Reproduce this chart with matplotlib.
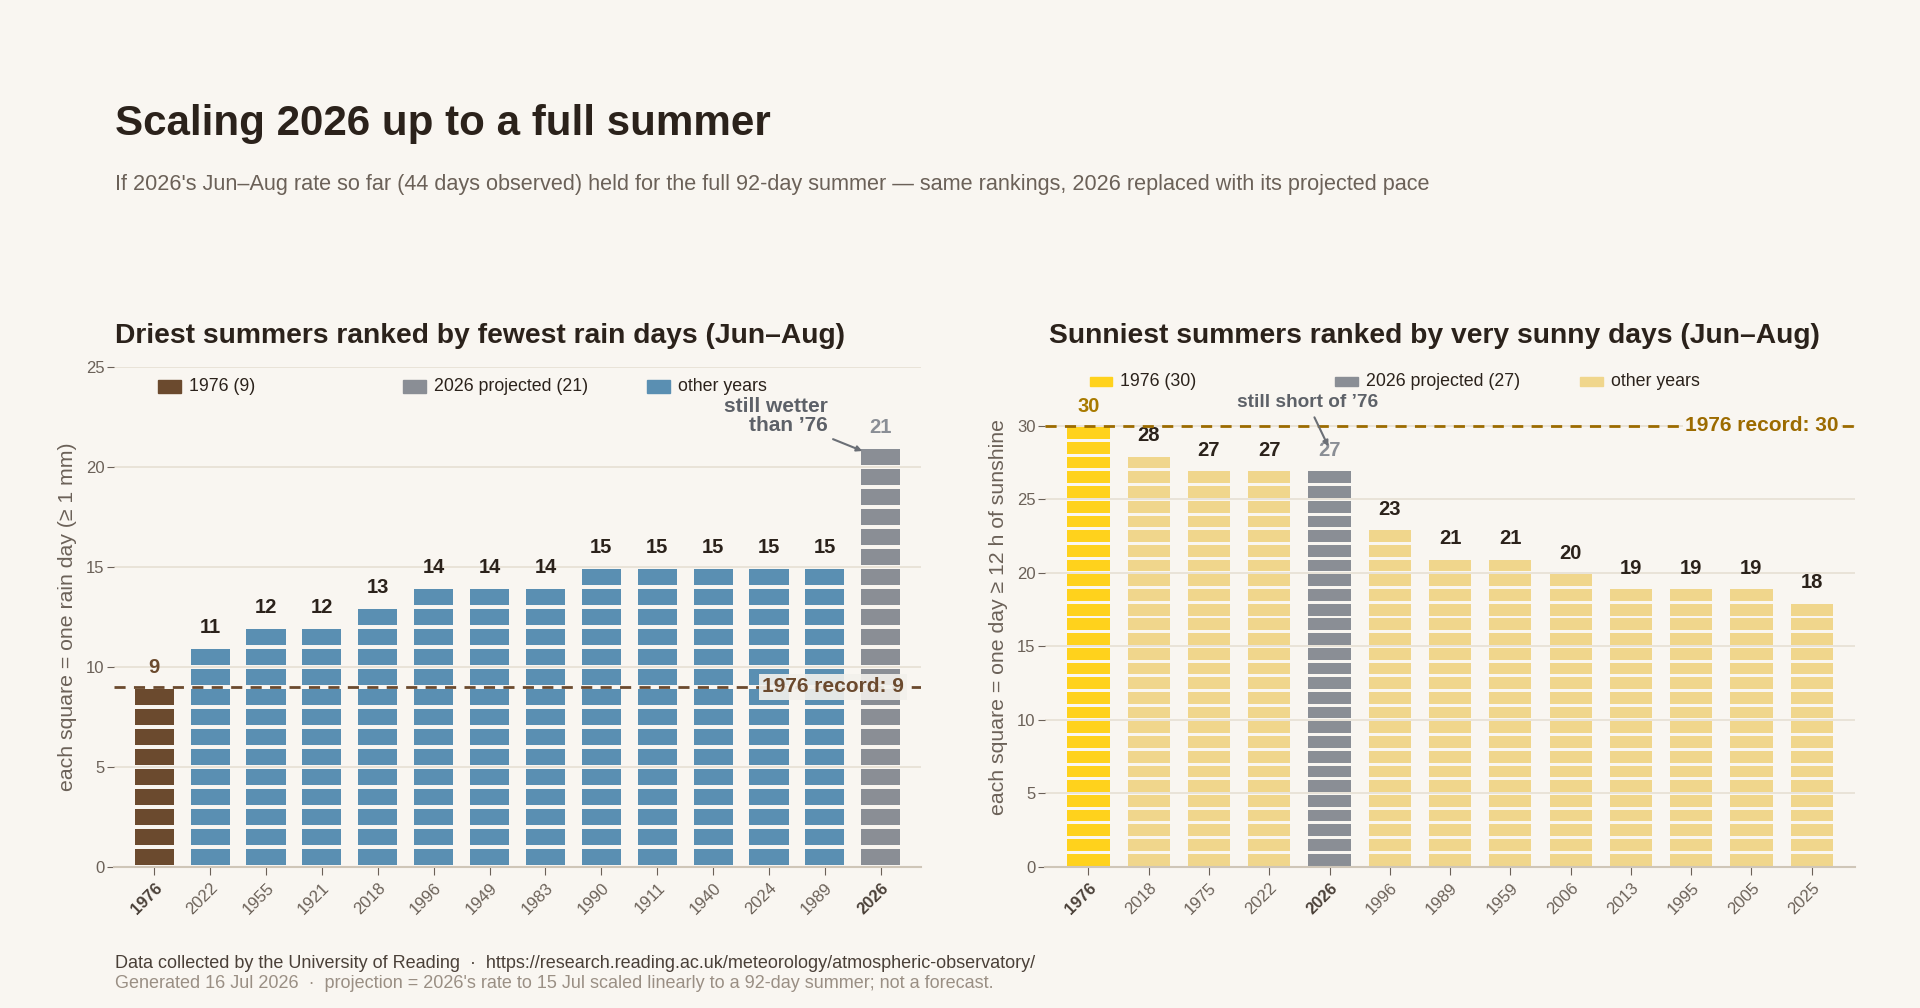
"""
  two square-stacked rankings: driest and sunniest summers, 2026 projected
"""

import numpy as np
import matplotlib
matplotlib.use("Agg")
import matplotlib.pyplot as plt
from matplotlib.patches import Rectangle

plt.rcParams['font.family'] = ['Liberation Sans', 'DejaVu Sans']

BG = "#f9f6f1"
INK = "#2b221b"
MUTED = "#6b6158"
GRID = "#e6e0d4"
BROWN = "#6b4a2e"
BLUE = "#5a8fb2"
GREY = "#8a8e95"
YELLOW = "#ffd21c"
PALE = "#f0d68c"
GOLD = "#9c6b00"

dry_years = ["1976", "2022", "1955", "1921", "2018", "1996", "1949", "1983", "1990", "1911", "1940", "2024", "1989", "2026"]
dry_days = [9, 11, 12, 12, 13, 14, 14, 14, 15, 15, 15, 15, 15, 21]
dry_record = 9

sun_years = ["1976", "2018", "1975", "2022", "2026", "1996", "1989", "1959", "2006", "2013", "1995", "2005", "2025"]
sun_days = [30, 28, 27, 27, 27, 23, 21, 21, 20, 19, 19, 19, 18]
sun_record = 30


def bar_color(year, hi, other):
  if year == "1976":
    return hi
  if year == "2026":
    return GREY
  return other


def squares(ax, years, days, hi, other, hi_lab):
  for i, (y, n) in enumerate(zip(years, days)):
    c = bar_color(y, hi, other)
    ax.bar(np.full(n, i), 0.8, bottom=np.arange(n) + 0.1, width=0.7, color=c, linewidth=0)
    lc = hi_lab if y == "1976" else (GREY if y == "2026" else INK)
    ax.annotate(str(n), (i, n), xytext=(0, 14), textcoords="offset points",
                ha="center", va="center", fontsize=14.5, fontweight="bold", color=lc)


def style(ax, years, ylim, yticks, ylabel):
  ax.set_facecolor(BG)
  ax.set_xlim(-0.72, len(years) - 0.28)
  ax.set_ylim(*ylim)
  ax.set_yticks(yticks)
  ax.grid(axis="y", color=GRID, linewidth=1.2, zorder=0)
  ax.set_axisbelow(True)
  for s in ("top", "right", "left"):
    ax.spines[s].set_visible(False)
  ax.spines["bottom"].set_color("#cfc6b8")
  ax.spines["bottom"].set_linewidth(1.5)
  ax.tick_params(axis="y", length=5, color=MUTED, labelcolor=MUTED, labelsize=12, pad=2)
  ax.tick_params(axis="x", length=6, color=MUTED, labelcolor=MUTED, labelsize=12)
  ax.set_xticks(range(len(years)))
  ax.set_xticklabels(years, rotation=45, ha="right", rotation_mode="anchor")
  for lab in ax.get_xticklabels():
    if lab.get_text() in ("1976", "2026"):
      lab.set_fontweight("bold")
      lab.set_color("#4a4038")
  ax.set_ylabel(ylabel, fontsize=15.3, color=MUTED, labelpad=6)


def legend(ax, items, y, h):
  for k, (lab, c) in enumerate(items):
    x = 0.055 + k * 0.303
    ax.add_patch(Rectangle((x, y - h / 2), 0.028, h, transform=ax.transAxes, color=c, clip_on=False))
    ax.text(x + 0.038, y, lab, transform=ax.transAxes, ha="left", va="center", fontsize=12.8, color=INK)


fig = plt.figure(figsize=(19.2, 10.08), dpi=100, facecolor=BG)

fig.text(0.06, 0.877, "Scaling 2026 up to a full summer", fontsize=30.3, fontweight="bold", color=INK, va="center")
fig.text(0.06, 0.817, "If 2026's Jun\u2013Aug rate so far (44 days observed) held for the full 92-day summer \u2014 same rankings, 2026 replaced with its projected pace",
         fontsize=15.6, color=MUTED, va="center")

# left: rain days
ax1 = fig.add_axes([0.0594, 0.1399, 0.4203, 0.496])
style(ax1, dry_years, (0, 25), range(0, 26, 5), "each square = one rain day (\u2265 1 mm)")
squares(ax1, dry_years, dry_days, BROWN, BLUE, BROWN)
ax1.axhline(dry_record, color=BROWN, linestyle=(0, (4, 3)), linewidth=2, zorder=3)
ax1.text(13.42, dry_record, "1976 record: 9", ha="right", va="center", fontsize=15, fontweight="bold", color=BROWN,
         zorder=4, bbox=dict(boxstyle="square,pad=0.15", facecolor="#f3f1ec", edgecolor="none", alpha=0.9))
legend(ax1, [("1976 (9)", BROWN), ("2026 projected (21)", GREY), ("other years", BLUE)], 0.962, 0.026)
ax1.annotate("still wetter\nthan \u201976", xy=(12.67, 20.8), xytext=(12.05, 22.55), ha="right", va="center",
             fontsize=15, fontweight="bold", color="#5d6168", linespacing=1.05,
             arrowprops=dict(arrowstyle="-|>", color="#6b6f76", linewidth=1.5, mutation_scale=8, shrinkA=2, shrinkB=0))
fig.text(0.06, 0.667, "Driest summers ranked by fewest rain days (Jun\u2013Aug)", fontsize=20.3, fontweight="bold", color=INK, va="center")

# right: very sunny days
ax2 = fig.add_axes([0.5443, 0.1399, 0.4219, 0.496])
style(ax2, sun_years, (0, 34), range(0, 31, 5), "each square = one day \u2265 12 h of sunshine")
squares(ax2, sun_years, sun_days, YELLOW, PALE, "#a87a00")
ax2.axhline(sun_record, color=GOLD, linestyle=(0, (4, 3)), linewidth=2, zorder=3)
ax2.text(12.45, sun_record, "1976 record: 30", ha="right", va="center", fontsize=15, fontweight="bold", color=GOLD,
         zorder=4, bbox=dict(boxstyle="square,pad=0.1", facecolor=BG, edgecolor="none"))
legend(ax2, [("1976 (30)", YELLOW), ("2026 projected (27)", GREY), ("other years", PALE)], 0.972, 0.018)
ax2.annotate("still short of \u201976", xy=(3.98, 28.6), xytext=(3.63, 31.6), ha="center", va="center",
             fontsize=13.7, fontweight="bold", color="#5d6168",
             arrowprops=dict(arrowstyle="-|>", color="#6b6f76", linewidth=1.5, mutation_scale=8, shrinkA=3, shrinkB=0))
fig.text(0.5464, 0.667, "Sunniest summers ranked by very sunny days (Jun\u2013Aug)", fontsize=20.3, fontweight="bold", color=INK, va="center")

fig.text(0.06, 0.0437, "Data collected by the University of Reading  \u00b7  https://research.reading.ac.uk/meteorology/atmospheric-observatory/",
         fontsize=13, color="#4a4038", va="center")
fig.text(0.06, 0.0248, "Generated 16 Jul 2026  \u00b7  projection = 2026's rate to 15 Jul scaled linearly to a 92-day summer; not a forecast.",
         fontsize=13, color="#9a8f84", va="center")

fig.savefig("out.png", dpi=100, facecolor=BG)
